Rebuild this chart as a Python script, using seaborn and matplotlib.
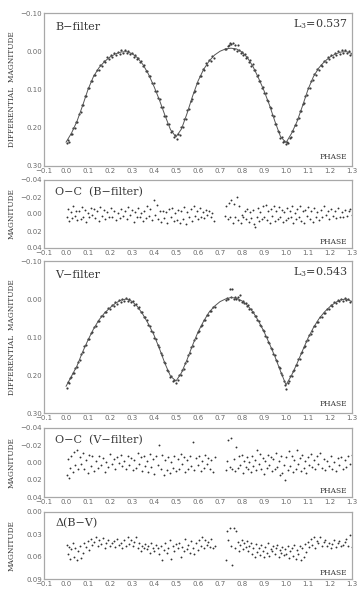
import matplotlib
matplotlib.use("Agg")
import matplotlib.pyplot as plt
import seaborn as sns
import numpy as np

# ---------------- data ----------------
model_phase = [0.000, 0.025, 0.050, 0.075, 0.100, 0.125, 0.150, 0.175, 0.200, 0.225,
               0.250, 0.275, 0.300, 0.325, 0.350, 0.375, 0.400, 0.425, 0.450, 0.475,
               0.500, 0.525, 0.550, 0.575, 0.600, 0.625, 0.650, 0.675, 0.700, 0.725,
               0.750, 0.775, 0.800, 0.825, 0.850, 0.875, 0.900, 0.925, 0.950, 0.975,
               1.000, 1.025, 1.050, 1.075, 1.100, 1.125, 1.150, 1.175, 1.200, 1.225,
               1.250, 1.275, 1.300]

b_model = [0.238, 0.214, 0.183, 0.143, 0.100, 0.066, 0.043, 0.027, 0.015, 0.007,
           0.002, 0.001, 0.006, 0.017, 0.035, 0.060, 0.092, 0.128, 0.168, 0.205,
           0.224, 0.203, 0.163, 0.118, 0.078, 0.048, 0.026, 0.010, 0.000, -0.006,
           -0.008, -0.006, 0.002, 0.017, 0.040, 0.070, 0.103, 0.141, 0.184, 0.223,
           0.239, 0.215, 0.184, 0.143, 0.100, 0.066, 0.043, 0.027, 0.015, 0.007,
           0.002, 0.001, 0.006]

v_model = [0.230, 0.203, 0.176, 0.140, 0.108, 0.079, 0.055, 0.037, 0.023, 0.011,
           0.003, 0.000, 0.006, 0.020, 0.041, 0.066, 0.095, 0.131, 0.170, 0.203,
           0.216, 0.194, 0.160, 0.122, 0.087, 0.059, 0.035, 0.019, 0.007, 0.000,
           -0.004, -0.002, 0.005, 0.017, 0.034, 0.058, 0.086, 0.118, 0.152, 0.190,
           0.226, 0.201, 0.170, 0.136, 0.103, 0.075, 0.052, 0.034, 0.020, 0.009,
           0.002, 0.000, 0.007]

b_phase = [0.004, 0.009, 0.014, 0.021, 0.027, 0.033, 0.040, 0.046, 0.052, 0.060,
           0.066, 0.073, 0.079, 0.086, 0.092, 0.099, 0.106, 0.112, 0.119, 0.126,
           0.133, 0.141, 0.148, 0.156, 0.163, 0.171, 0.179, 0.187, 0.195, 0.203,
           0.211, 0.219, 0.228, 0.236, 0.244, 0.252, 0.260, 0.268, 0.276, 0.284,
           0.292, 0.300, 0.307, 0.314, 0.321, 0.328, 0.335, 0.342, 0.349, 0.356,
           0.363, 0.370, 0.377, 0.384, 0.391, 0.398, 0.405, 0.412, 0.419, 0.426,
           0.433, 0.440, 0.447, 0.454, 0.461, 0.468, 0.475, 0.482, 0.489, 0.496,
           0.503, 0.510, 0.517, 0.524, 0.531, 0.538, 0.545, 0.552, 0.559, 0.566,
           0.573, 0.580, 0.587, 0.594, 0.601, 0.608, 0.615, 0.622, 0.629, 0.636,
           0.643, 0.650, 0.657, 0.664, 0.671, 0.723, 0.729, 0.735, 0.741, 0.747,
           0.752, 0.758, 0.764, 0.770, 0.776, 0.782, 0.788, 0.794, 0.800, 0.806,
           0.812, 0.818, 0.824, 0.830, 0.836, 0.842, 0.848, 0.854, 0.860, 0.866,
           0.872, 0.878, 0.884, 0.890, 0.896, 0.902, 0.908, 0.914, 0.920, 0.926,
           0.932, 0.938, 0.944, 0.950, 0.956, 0.962, 0.968, 0.974, 0.980, 0.986,
           0.992, 0.998, 1.004, 1.010, 1.016, 1.022, 1.028, 1.034, 1.040, 1.046,
           1.052, 1.058, 1.064, 1.070, 1.076, 1.082, 1.088, 1.094, 1.100, 1.107,
           1.114, 1.121, 1.128, 1.135, 1.142, 1.149, 1.157, 1.165, 1.173, 1.181,
           1.189, 1.197, 1.205, 1.213, 1.221, 1.229, 1.237, 1.245, 1.253, 1.261,
           1.269, 1.277, 1.285, 1.293, 1.299]

b_mag = [0.240, 0.232, 0.237, 0.217, 0.217, 0.201, 0.200, 0.186, 0.184, 0.163,
         0.160, 0.141, 0.140, 0.118, 0.116, 0.097, 0.096, 0.079, 0.077, 0.062,
         0.062, 0.048, 0.049, 0.036, 0.038, 0.026, 0.028, 0.016, 0.021, 0.009,
         0.014, 0.004, 0.010, 0.001, 0.007, -0.002, 0.005, -0.003, 0.004, 0.000,
         0.008, 0.004, 0.014, 0.009, 0.020, 0.017, 0.028, 0.025, 0.039, 0.036,
         0.052, 0.051, 0.065, 0.066, 0.084, 0.084, 0.103, 0.103, 0.122, 0.125,
         0.145, 0.147, 0.168, 0.168, 0.189, 0.190, 0.210, 0.209, 0.225, 0.218,
         0.230, 0.217, 0.218, 0.199, 0.198, 0.177, 0.176, 0.154, 0.152, 0.129,
         0.126, 0.106, 0.104, 0.083, 0.083, 0.064, 0.066, 0.047, 0.050, 0.032,
         0.037, 0.022, 0.026, 0.012, 0.018, -0.006, -0.005, -0.014, -0.016, -0.021,
         -0.019, -0.021, -0.005, -0.016, -0.001, -0.017, -0.003, 0.005, 0.003, 0.010,
         0.006, 0.018, 0.016, 0.028, 0.023, 0.038, 0.034, 0.050, 0.048, 0.064,
         0.063, 0.077, 0.078, 0.095, 0.094, 0.110, 0.110, 0.128, 0.129, 0.146,
         0.149, 0.167, 0.170, 0.189, 0.191, 0.209, 0.210, 0.226, 0.224, 0.238,
         0.234, 0.243, 0.236, 0.239, 0.226, 0.224, 0.208, 0.208, 0.192, 0.192,
         0.176, 0.174, 0.156, 0.155, 0.137, 0.135, 0.116, 0.114, 0.097, 0.095,
         0.077, 0.076, 0.060, 0.062, 0.047, 0.049, 0.035, 0.038, 0.025, 0.027,
         0.015, 0.020, 0.009, 0.014, 0.004, 0.009, 0.000, 0.007, -0.002, 0.005,
         -0.002, 0.004, 0.000, 0.009, 0.006]

v_phase = [0.003, 0.008, 0.013, 0.018, 0.024, 0.030, 0.036, 0.042, 0.049, 0.056,
           0.063, 0.070, 0.077, 0.084, 0.091, 0.098, 0.105, 0.112, 0.120, 0.128,
           0.136, 0.144, 0.152, 0.160, 0.168, 0.176, 0.184, 0.192, 0.200, 0.208,
           0.216, 0.224, 0.232, 0.240, 0.248, 0.256, 0.264, 0.272, 0.280, 0.288,
           0.296, 0.304, 0.311, 0.318, 0.325, 0.332, 0.339, 0.346, 0.353, 0.360,
           0.367, 0.374, 0.381, 0.388, 0.395, 0.402, 0.409, 0.416, 0.423, 0.430,
           0.437, 0.444, 0.451, 0.458, 0.465, 0.472, 0.479, 0.486, 0.493, 0.500,
           0.507, 0.514, 0.521, 0.528, 0.535, 0.542, 0.549, 0.556, 0.563, 0.570,
           0.577, 0.584, 0.591, 0.598, 0.605, 0.612, 0.619, 0.626, 0.633, 0.640,
           0.647, 0.654, 0.661, 0.668, 0.675, 0.726, 0.732, 0.738, 0.744, 0.750,
           0.756, 0.762, 0.768, 0.774, 0.780, 0.786, 0.792, 0.798, 0.804, 0.810,
           0.816, 0.822, 0.828, 0.834, 0.840, 0.846, 0.852, 0.858, 0.864, 0.870,
           0.876, 0.882, 0.888, 0.894, 0.900, 0.906, 0.912, 0.918, 0.924, 0.930,
           0.936, 0.942, 0.948, 0.954, 0.960, 0.966, 0.972, 0.978, 0.984, 0.990,
           0.996, 1.002, 1.008, 1.014, 1.020, 1.026, 1.032, 1.038, 1.044, 1.050,
           1.056, 1.062, 1.068, 1.074, 1.080, 1.086, 1.092, 1.098, 1.105, 1.112,
           1.119, 1.126, 1.133, 1.140, 1.147, 1.155, 1.163, 1.171, 1.179, 1.187,
           1.195, 1.203, 1.211, 1.219, 1.227, 1.235, 1.243, 1.251, 1.259, 1.267,
           1.275, 1.283, 1.291, 1.298]

v_mag = [0.233, 0.219, 0.221, 0.207, 0.206, 0.194, 0.195, 0.182, 0.180, 0.165,
         0.161, 0.145, 0.140, 0.123, 0.121, 0.106, 0.105, 0.090, 0.088, 0.073,
         0.071, 0.058, 0.057, 0.044, 0.045, 0.033, 0.035, 0.024, 0.026, 0.016,
         0.018, 0.009, 0.012, 0.003, 0.007, -0.001, 0.004, -0.003, 0.004, 0.000,
         0.008, 0.005, 0.015, 0.013, 0.024, 0.022, 0.034, 0.034, 0.048, 0.047,
         0.055, 0.069, 0.070, 0.085, 0.086, 0.102, 0.104, 0.122, 0.125, 0.142,
         0.147, 0.165, 0.169, 0.187, 0.189, 0.205, 0.203, 0.216, 0.212, 0.220,
         0.214, 0.201, 0.200, 0.186, 0.183, 0.168, 0.164, 0.148, 0.143, 0.127,
         0.123, 0.107, 0.103, 0.087, 0.084, 0.070, 0.069, 0.055, 0.055, 0.043,
         0.043, 0.031, 0.032, 0.021, 0.022, 0.002, -0.003, -0.001, -0.026, -0.004,
         -0.027, -0.001, -0.005, 0.001, -0.004, 0.003, -0.010, 0.007, 0.004, 0.011,
         0.010, 0.018, 0.017, 0.025, 0.025, 0.034, 0.034, 0.044, 0.045, 0.056,
         0.057, 0.068, 0.070, 0.082, 0.084, 0.097, 0.099, 0.112, 0.115, 0.128,
         0.131, 0.145, 0.147, 0.161, 0.163, 0.178, 0.181, 0.196, 0.199, 0.216,
         0.226, 0.238, 0.221, 0.216, 0.203, 0.203, 0.189, 0.187, 0.174, 0.173,
         0.159, 0.157, 0.142, 0.140, 0.126, 0.124, 0.110, 0.108, 0.094, 0.093,
         0.085, 0.072, 0.072, 0.060, 0.060, 0.048, 0.048, 0.037, 0.038, 0.027,
         0.026, 0.016, 0.018, 0.008, 0.011, 0.002, 0.006, -0.001, 0.004, -0.002,
         0.003, -0.001, 0.007, 0.005]

oc_b = [0.004, -0.006, 0.008, -0.002, 0.005, -0.009, 0.002, -0.004, 0.007, -0.003,
        0.006, -0.008, 0.003, -0.005, 0.009, -0.001, 0.004, -0.007, 0.001, -0.006,
        0.005, -0.003, 0.008, -0.008, 0.002, -0.005, 0.006, -0.002, 0.004, -0.007,
        0.003, -0.004, 0.007, -0.001, 0.005, -0.006, 0.002, -0.003, 0.006, -0.008,
        0.001, -0.005, 0.009, -0.002, 0.004, -0.007, 0.003, -0.001, 0.008, -0.004,
        0.005, -0.009, 0.002, -0.006, 0.007, -0.016, 0.001, -0.011, 0.006, -0.003,
        0.009, -0.004, 0.005, -0.002, 0.010, -0.006, 0.003, -0.007, 0.008, -0.001,
        0.007, -0.005, 0.010, -0.003, 0.006, -0.008, 0.012, -0.002, 0.004, -0.006,
        0.008, -0.009, 0.002, -0.004, 0.006, -0.007, 0.003, -0.002, 0.005, -0.005,
        0.001, -0.004, 0.004, -0.001, 0.008, 0.002, -0.010, 0.006, -0.013, 0.004,
        -0.016, 0.010, -0.012, 0.003, -0.020, 0.007, -0.009, 0.011, 0.001, 0.004,
        -0.003, 0.006, -0.006, 0.009, -0.002, 0.005, -0.005, 0.012, 0.015, 0.003,
        -0.007, 0.008, -0.002, 0.006, -0.009, 0.004, -0.011, 0.007, -0.004, 0.010,
        -0.006, 0.002, -0.010, 0.008, -0.003, 0.006, -0.008, 0.004, -0.005, 0.009,
        -0.002, 0.007, -0.007, 0.005, -0.004, 0.003, -0.009, 0.010, -0.001, 0.006,
        -0.006, 0.004, -0.010, 0.008, -0.003, 0.011, -0.005, 0.002, -0.008, 0.006,
        -0.004, 0.009, -0.007, 0.003, -0.002, 0.007, -0.005, 0.004, -0.009, 0.001,
        -0.003, 0.006, -0.006, 0.002, -0.004, 0.005, -0.007, 0.003, -0.002, 0.004,
        -0.005, 0.002, -0.003, -0.006, 0.001]

oc_v = [0.015, -0.004, 0.018, 0.006, -0.008, 0.011, -0.012, 0.003, -0.015, 0.008,
        -0.006, 0.002, -0.011, 0.007, -0.003, 0.012, -0.009, 0.004, -0.007, 0.010,
        -0.002, 0.006, -0.008, 0.003, -0.005, 0.011, -0.001, 0.005, -0.010, 0.002,
        -0.004, 0.008, -0.006, 0.001, -0.009, 0.004, -0.002, 0.007, -0.007, 0.003,
        -0.005, 0.009, -0.003, 0.006, -0.011, 0.002, -0.006, 0.010, -0.008, 0.004,
        -0.002, 0.011, -0.010, 0.005, -0.004, 0.013, -0.007, 0.003, -0.020, 0.008,
        -0.009, 0.014, -0.003, 0.009, -0.006, 0.012, -0.001, 0.006, -0.008, 0.010,
        -0.004, 0.007, -0.010, 0.002, -0.006, 0.011, -0.003, 0.008, -0.007, 0.004,
        -0.024, 0.009, -0.005, 0.003, -0.008, 0.010, -0.002, 0.006, -0.009, 0.002,
        -0.005, 0.007, -0.003, 0.011, -0.006, 0.009, -0.002, -0.026, 0.005, -0.028,
        0.008, -0.004, 0.010, -0.018, 0.006, -0.007, 0.003, -0.009, 0.012, -0.002,
        0.005, -0.006, 0.008, -0.001, 0.011, -0.008, 0.004, -0.003, 0.009, -0.014,
        0.002, -0.010, 0.007, -0.005, 0.013, -0.002, 0.006, -0.009, 0.003, -0.006,
        0.010, -0.004, 0.008, -0.011, 0.005, -0.002, 0.015, -0.007, 0.012, 0.003,
        0.020, -0.006, 0.009, -0.013, 0.004, -0.008, 0.011, -0.003, 0.007, -0.015,
        0.002, -0.005, 0.010, -0.009, 0.006, -0.002, 0.012, -0.006, 0.003, -0.010,
        0.005, -0.003, 0.008, -0.007, 0.002, -0.011, 0.006, -0.004, 0.009, -0.002,
        0.004, -0.008, 0.007, -0.001, 0.010, -0.005, 0.003, -0.006, 0.008, -0.003,
        0.005, -0.007, 0.002, -0.009]

d_bv = [0.044, 0.056, 0.047, 0.063, 0.050, 0.041, 0.061, 0.048, 0.064, 0.052,
        0.046, 0.062, 0.055, 0.042, 0.047, 0.039, 0.051, 0.036, 0.044, 0.040,
        0.034, 0.046, 0.038, 0.043, 0.035, 0.049, 0.041, 0.037, 0.045, 0.042,
        0.039, 0.047, 0.036, 0.044, 0.041, 0.048, 0.038, 0.045, 0.033, 0.043,
        0.037, 0.046, 0.040, 0.034, 0.048, 0.042, 0.052, 0.045, 0.049, 0.043,
        0.050, 0.046, 0.055, 0.041, 0.048, 0.053, 0.044, 0.049, 0.057, 0.046,
        0.064, 0.051, 0.042, 0.055, 0.048, 0.038, 0.063, 0.046, 0.052, 0.043,
        0.049, 0.041, 0.060, 0.047, 0.053, 0.036, 0.050, 0.044, 0.055, 0.039,
        0.048, 0.057, 0.042, 0.051, 0.038, 0.046, 0.034, 0.049, 0.037, 0.044,
        0.040, 0.047, 0.036, 0.048, 0.046, 0.064, 0.025, 0.037, 0.022, 0.045,
        0.071, 0.021, 0.048, 0.025, 0.040, 0.052, 0.044, 0.038, 0.050, 0.042,
        0.047, 0.039, 0.053, 0.045, 0.041, 0.056, 0.049, 0.060, 0.043, 0.054,
        0.048, 0.058, 0.044, 0.052, 0.061, 0.047, 0.055, 0.042, 0.059, 0.050,
        0.053, 0.046, 0.057, 0.049, 0.044, 0.060, 0.051, 0.055, 0.047, 0.058,
        0.050, 0.056, 0.045, 0.062, 0.052, 0.048, 0.059, 0.044, 0.063, 0.051,
        0.057, 0.046, 0.065, 0.049, 0.060, 0.043, 0.054, 0.040, 0.047, 0.036,
        0.044, 0.034, 0.048, 0.039, 0.042, 0.033, 0.046, 0.040, 0.037, 0.045,
        0.041, 0.048, 0.043, 0.037, 0.047, 0.042, 0.039, 0.046, 0.044, 0.040,
        0.036, 0.045, 0.031, 0.047]

x_ticks = [-0.1, 0.0, 0.1, 0.2, 0.3, 0.4, 0.5, 0.6, 0.7, 0.8, 0.9, 1.0, 1.1, 1.2, 1.3]
lc_yticks = [-0.10, 0.00, 0.10, 0.20, 0.30]
oc_yticks = [-0.04, -0.02, 0.00, 0.02, 0.04]
bv_yticks = [0.00, 0.03, 0.06, 0.09]

# ---------------- style ----------------
sns.set_style("white")
plt.rcParams['font.family'] = ['DejaVu Sans']
plt.rcParams['mathtext.fontset'] = 'dejavuserif'
plt.rcParams['axes.unicode_minus'] = False

FRAME = '#a8a8a8'
TICKLAB = '#6a6a6a'
TXT = '#3a3a3a'
SERIF = 'DejaVu Serif'

W, H = 364, 600
fig = plt.figure(figsize=(W / 100, H / 100), dpi=100)

def px_axes(top, bottom, left=44, right=352):
    return fig.add_axes([left / W, 1 - bottom / H, (right - left) / W, (bottom - top) / H])

ax1 = px_axes(13, 166)
ax2 = px_axes(180, 248)
ax3 = px_axes(261, 413)
ax4 = px_axes(428, 497)
ax5 = px_axes(512, 579)

def style(ax, yticks, yfmt, ylim):
    ax.set_xlim(-0.1, 1.3)
    ax.set_ylim(ylim)
    ax.set_xticks(x_ticks)
    ax.set_xticklabels([f"{t:.1f}".replace('-', '\u2212') for t in x_ticks])
    ax.set_yticks(yticks)
    ax.set_yticklabels([(yfmt % t).replace('-', '\u2212') for t in yticks])
    ax.tick_params(direction='in', length=3, width=0.7, color=FRAME,
                   labelcolor=TICKLAB, labelsize=5, pad=1.5)
    for s in ax.spines.values():
        s.set_color(FRAME)
        s.set_linewidth(0.9)
    ax.set_xlabel('')
    ax.set_ylabel('')
    ax.text(0.985, 0.03, 'PHASE', transform=ax.transAxes, ha='right', va='bottom',
            fontsize=5.4, family=SERIF, color=TXT)

DOT = '#333333'

# Light curves
for ax, ph, mag, mod, title, l3 in [(ax1, b_phase, b_mag, b_model, 'B\u2212filter', 'L$_3$=0.537'),
                                    (ax3, v_phase, v_mag, v_model, 'V\u2212filter', 'L$_3$=0.543')]:
    sns.lineplot(x=model_phase, y=mod, ax=ax, color='#555555', lw=0.7,
                 sort=False, estimator=None)
    sns.scatterplot(x=ph, y=mag, ax=ax, s=2.5, color='#3a3a3a', linewidth=0, marker='o')
    style(ax, lc_yticks, '%.2f', (0.30, -0.10))
    ax.text(0.036, 0.91, title, transform=ax.transAxes, ha='left', va='center',
            fontsize=8, family=SERIF, color=TXT)
    ax.text(0.987, 0.93, l3, transform=ax.transAxes, ha='right', va='center',
            fontsize=8, family=SERIF, color=TXT)

# O-C panels
for ax, ph, res, title in [(ax2, b_phase, oc_b, 'O\u2212C  (B\u2212filter)'),
                           (ax4, v_phase, oc_v, 'O\u2212C  (V\u2212filter)')]:
    sns.scatterplot(x=ph, y=res, ax=ax, s=1.8, color=DOT, linewidth=0)
    style(ax, oc_yticks, '%.2f', (0.04, -0.04))
    ax.text(0.036, 0.82, title, transform=ax.transAxes, ha='left', va='center',
            fontsize=8, family=SERIF, color=TXT)

# Delta(B-V)
sns.scatterplot(x=v_phase, y=d_bv, ax=ax5, s=1.8, color=DOT, linewidth=0)
style(ax5, bv_yticks, '%.2f', (0.09, 0.00))
ax5.text(0.036, 0.83, '\u0394(B\u2212V)', transform=ax5.transAxes, ha='left', va='center',
         fontsize=8, family=SERIF, color=TXT)

# y labels
def ylab(text, top, bottom):
    fig.text(12 / W, 1 - (top + bottom) / 2 / H, text, rotation=90, ha='center',
             va='center', fontsize=5.3, family=SERIF, color=TXT)

ylab('DIFFERENTIAL  MAGNITUDE', 13, 166)
ylab('MAGNITUDE', 180, 248)
ylab('DIFFERENTIAL  MAGNITUDE', 261, 413)
ylab('MAGNITUDE', 428, 497)
ylab('MAGNITUDE', 512, 579)

fig.savefig('out.png', dpi=100)
